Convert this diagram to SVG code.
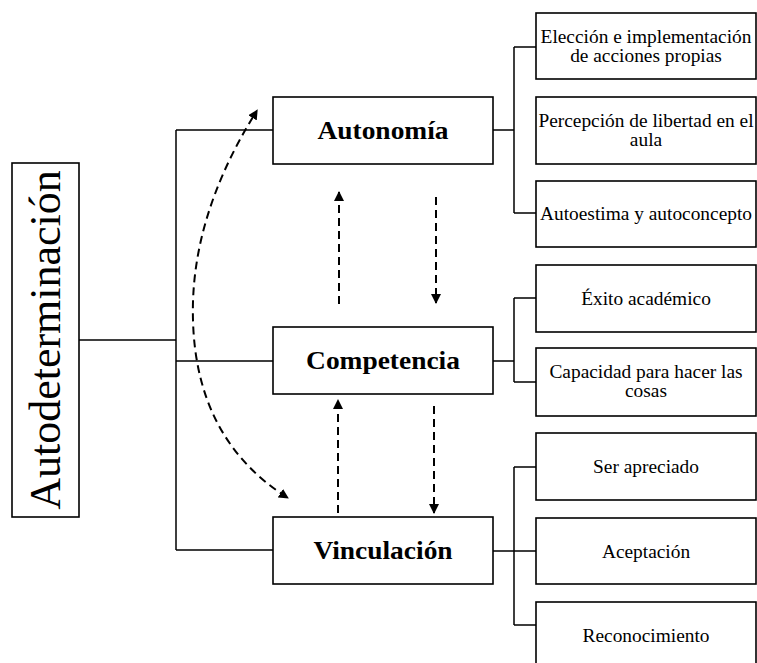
<svg xmlns="http://www.w3.org/2000/svg" width="757" height="663" viewBox="0 0 757 663">
<defs>
<style>
.box{fill:#fff;stroke:#000;stroke-width:1.6}
.ln{fill:none;stroke:#000;stroke-width:1.5}
.da{fill:none;stroke:#000;stroke-width:2;stroke-dasharray:8 5}
.t{font-family:"Liberation Serif","Times New Roman",serif;font-size:19px;fill:#000;text-anchor:middle}
.b{font-family:"Liberation Serif","Times New Roman",serif;font-size:24.5px;font-weight:bold;fill:#000;text-anchor:middle}
.v{font-family:"Liberation Serif","Times New Roman",serif;font-size:44px;fill:#000;text-anchor:middle}
</style>
<marker id="ah" viewBox="0 0 10 10" refX="9" refY="5" markerWidth="10" markerHeight="10" markerUnits="userSpaceOnUse" orient="auto">
<path d="M0,0 L10,5 L0,10 Z" fill="#000"/>
</marker>
<marker id="ahs" viewBox="0 0 10 10" refX="1" refY="5" markerWidth="10" markerHeight="10" markerUnits="userSpaceOnUse" orient="auto-start-reverse">
<path d="M0,0 L10,5 L0,10 Z" fill="#000"/>
</marker>
</defs>
<rect width="757" height="663" fill="#fff"/>

<g id="connectors">
<path class="ln" d="M79,340 H176 M176,130 V550 M176,130 H273 M176,361 H273 M176,550 H273"/>
<path class="ln" d="M493,130 H514 M514,47 V213 M514,47 H536 M514,213 H536"/>
<path class="ln" d="M493,361 H514 M514,298 V382 M514,298 H536 M514,382 H536"/>
<path class="ln" d="M493,551 H536 M514,467 V625 M514,467 H536 M514,625 H536"/>
<path class="da" d="M339,304 V192" marker-end="url(#ah)"/>
<path class="da" d="M436,197 V303" marker-end="url(#ah)"/>
<path class="da" d="M338,513 V400" marker-end="url(#ah)"/>
<path class="da" d="M434,406 V513" marker-end="url(#ah)"/>
<path class="da" d="M253,117 Q190,220 193,320 Q196,440 288,498" marker-start="url(#ahs)" marker-end="url(#ah)"/>
</g>

<g id="autodeterminacion">
<rect class="box" x="12" y="163" width="67" height="354"/>
<text class="v" transform="translate(60,340) rotate(-90)">Autodeterminación</text>
</g>

<g id="autonomia">
<rect class="box" x="273" y="97" width="220" height="67"/>
<text class="b" transform="translate(383,138.5) scale(1.12,1)">Autonomía</text>
</g>
<g id="competencia">
<rect class="box" x="273" y="327" width="220" height="67"/>
<text class="b" transform="translate(383,368.5) scale(1.12,1)">Competencia</text>
</g>
<g id="vinculacion">
<rect class="box" x="273" y="517" width="220" height="67"/>
<text class="b" transform="translate(383,558.5) scale(1.12,1)">Vinculación</text>
</g>

<g id="eleccion">
<rect class="box" x="536" y="13" width="220" height="66"/>
<text class="t" transform="translate(646,43) scale(1.02,1)">Elección e implementación</text>
<text class="t" transform="translate(646,62) scale(1.02,1)">de acciones propias</text>
</g>
<g id="percepcion">
<rect class="box" x="536" y="97" width="220" height="67"/>
<text class="t" transform="translate(646,127) scale(1.02,1)">Percepción de libertad en el</text>
<text class="t" transform="translate(646,146) scale(1.02,1)">aula</text>
</g>
<g id="autoestima">
<rect class="box" x="536" y="181" width="220" height="66"/>
<text class="t" transform="translate(646,220) scale(1.02,1)">Autoestima y autoconcepto</text>
</g>
<g id="exito">
<rect class="box" x="536" y="265" width="220" height="67"/>
<text class="t" transform="translate(646,305) scale(1.02,1)">Éxito académico</text>
</g>
<g id="capacidad">
<rect class="box" x="536" y="348" width="220" height="68"/>
<text class="t" transform="translate(646,378) scale(1.02,1)">Capacidad para hacer las</text>
<text class="t" transform="translate(646,397) scale(1.02,1)">cosas</text>
</g>
<g id="ser-apreciado">
<rect class="box" x="536" y="433" width="220" height="67"/>
<text class="t" transform="translate(646,473) scale(1.02,1)">Ser apreciado</text>
</g>
<g id="aceptacion">
<rect class="box" x="536" y="518" width="220" height="66"/>
<text class="t" transform="translate(646,557.5) scale(1.02,1)">Aceptación</text>
</g>
<g id="reconocimiento">
<rect class="box" x="536" y="602" width="220" height="67"/>
<text class="t" transform="translate(646,641.5) scale(1.02,1)">Reconocimiento</text>
</g>
</svg>
